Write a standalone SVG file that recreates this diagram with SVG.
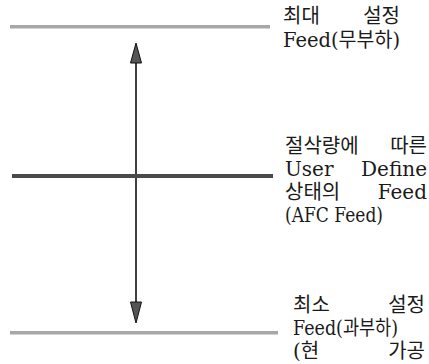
<svg xmlns="http://www.w3.org/2000/svg" width="429" height="364" viewBox="0 0 429 364">
<style>
.t{font-family:"DejaVu Serif","Noto Sans CJK KR",serif;font-size:20px;fill:#1a1a1a}
.e{text-anchor:end}
.bar{fill:#a8a8a8}
.mid{fill:#4a4a4a}
.head{fill:#555;stroke:#111;stroke-width:1}
</style>
<rect width="429" height="364" fill="#fff"/>
<g id="connectors">
<line x1="136" y1="60" x2="136" y2="305" stroke="#111" stroke-width="1.6"/>
<polygon class="head" points="136,43 130.5,63 141.5,63"/>
<polygon class="head" points="136,323 130.5,302 141.5,302"/>
</g>
<g id="max-line">
<rect class="bar" x="10" y="25" width="260" height="3.5"/>
<text class="t" x="283" y="23">최대</text>
<text class="t e" x="400" y="23">설정</text>
<text class="t" x="283" y="47" textLength="117" lengthAdjust="spacingAndGlyphs">Feed(무부하)</text>
</g>
<g id="afc-line">
<rect class="mid" x="12" y="174" width="261" height="4"/>
<text class="t" x="285" y="153">절삭량에</text>
<text class="t e" x="427" y="153">따른</text>
<text class="t" x="285" y="176">User</text>
<text class="t e" x="427" y="176">Define</text>
<text class="t" x="285" y="199">상태의</text>
<text class="t e" x="427" y="199">Feed</text>
<text class="t" x="285" y="222" textLength="98" lengthAdjust="spacingAndGlyphs">(AFC Feed)</text>
</g>
<g id="min-line">
<rect class="bar" x="10" y="331" width="268" height="3.5"/>
<text class="t" x="293" y="312">최소</text>
<text class="t e" x="425" y="312">설정</text>
<text class="t" x="293" y="335" textLength="105" lengthAdjust="spacingAndGlyphs">Feed(과부하)</text>
<text class="t" x="293" y="358">(현</text>
<text class="t e" x="425" y="358">가공</text>
</g>
</svg>
